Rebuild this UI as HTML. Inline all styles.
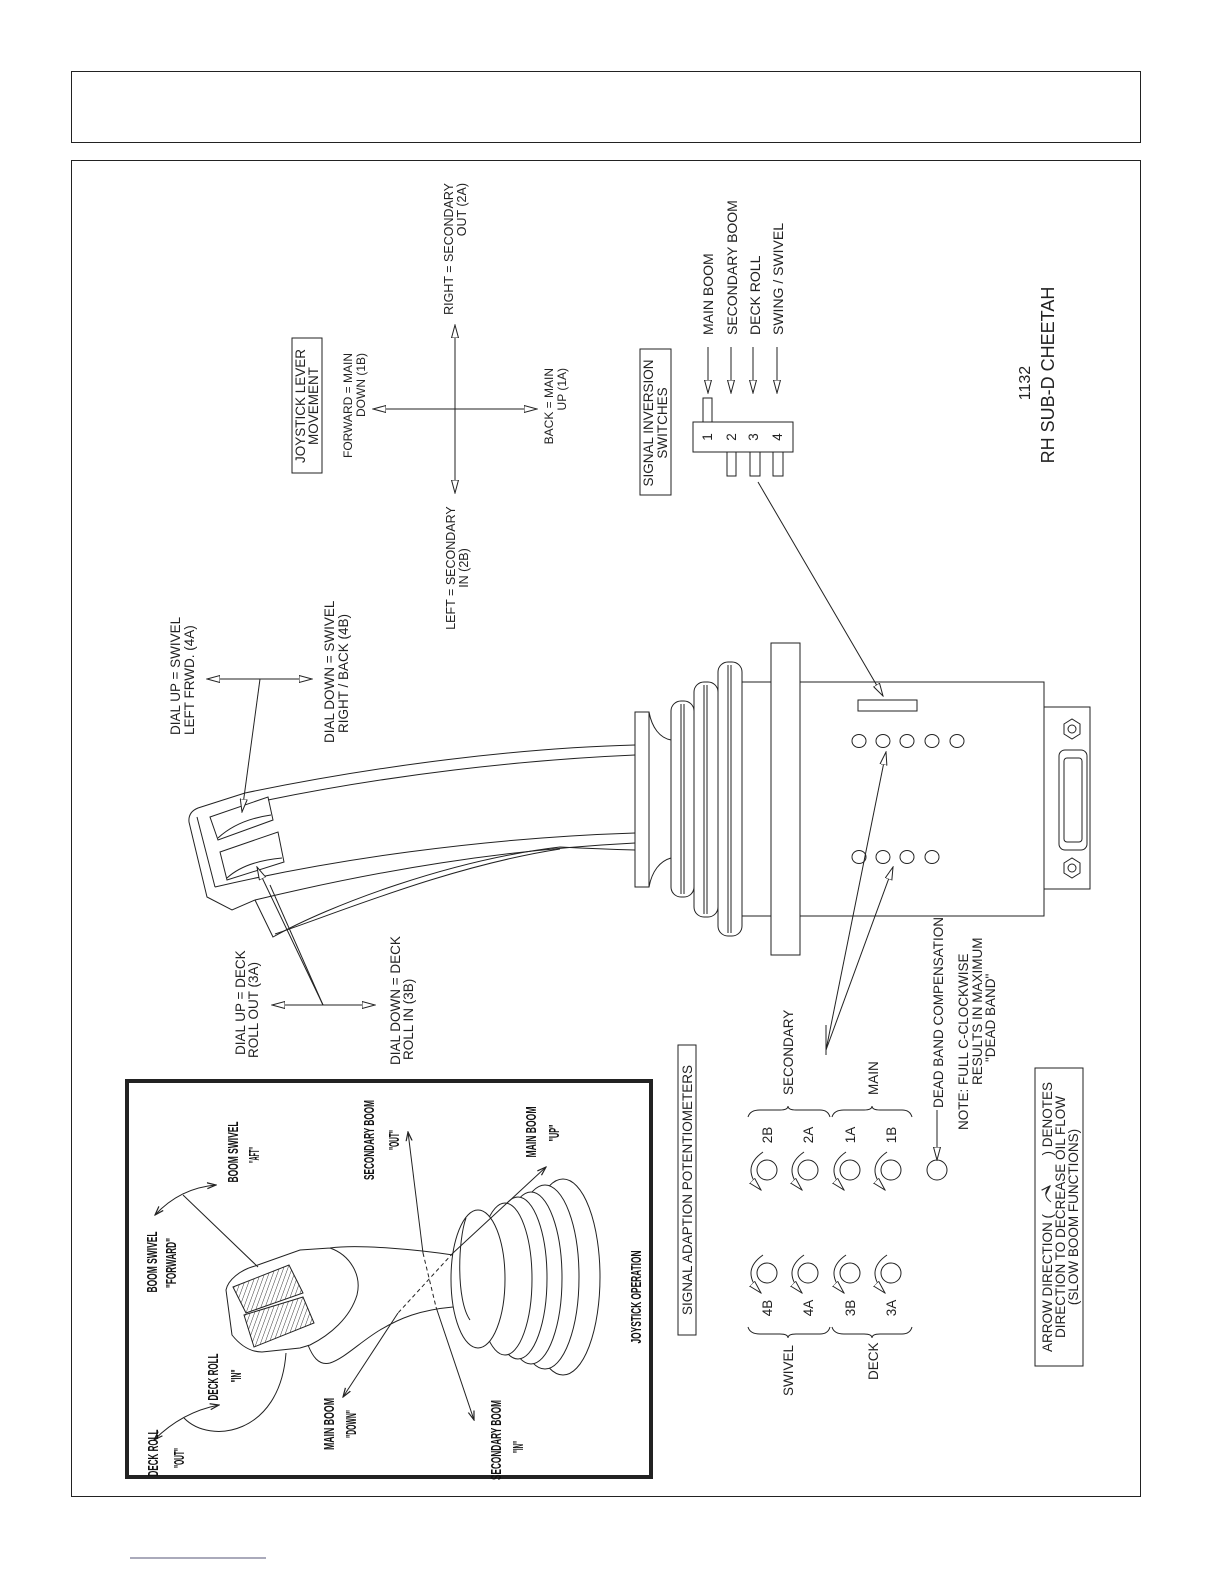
<!DOCTYPE html>
<html><head><meta charset="utf-8"><style>
html,body{margin:0;padding:0;background:#fff}
svg{display:block}
</style></head><body>
<svg width="1224" height="1584" viewBox="0 0 1224 1584" xmlns="http://www.w3.org/2000/svg" style="font-family:'Liberation Sans',sans-serif;font-size:13.5px">
<defs>
<marker id="a" markerWidth="14" markerHeight="8" refX="13" refY="4" orient="auto-start-reverse" markerUnits="userSpaceOnUse">
<path d="M0,0.5 L13,4 L0,7.5 Z" fill="#fff" stroke="#222" stroke-width="1"/></marker>
<marker id="s" markerWidth="10" markerHeight="8" refX="9" refY="4" orient="auto-start-reverse" markerUnits="userSpaceOnUse">
<path d="M0,1 L9,4 L0,7" fill="none" stroke="#222" stroke-width="1.2"/></marker>
<pattern id="h" width="4" height="4" patternUnits="userSpaceOnUse" patternTransform="rotate(20)">
<line x1="0" y1="0" x2="0" y2="4" stroke="#222" stroke-width="0.9"/></pattern>
</defs>
<g fill="none" stroke="#222" stroke-width="1">
<rect x="71.5" y="71.5" width="1069" height="71"/>
<rect x="71.5" y="160.5" width="1069" height="1336"/>
<line x1="130" y1="1558" x2="266" y2="1558" stroke="#557"/>
<rect x="292" y="338" width="30" height="135"/>
<line x1="455" y1="409" x2="373" y2="409" marker-end="url(#a)"/>
<line x1="455" y1="409" x2="537" y2="409" marker-end="url(#a)"/>
<line x1="455" y1="409" x2="455" y2="325" marker-end="url(#a)"/>
<line x1="455" y1="409" x2="455" y2="493" marker-end="url(#a)"/>
<rect x="640" y="349" width="31" height="146"/>
<rect x="693" y="422" width="100" height="30"/>
<rect x="703" y="398" width="9" height="24"/>
<rect x="727" y="452" width="9" height="24"/>
<rect x="750" y="452" width="10" height="24"/>
<rect x="773" y="452" width="10" height="24"/>
<line x1="708" y1="347" x2="708" y2="393" marker-end="url(#a)"/>
<line x1="731" y1="347" x2="731" y2="393" marker-end="url(#a)"/>
<line x1="753" y1="347" x2="753" y2="393" marker-end="url(#a)"/>
<line x1="777" y1="347" x2="777" y2="393" marker-end="url(#a)"/>
<line x1="758" y1="482" x2="883" y2="696" marker-end="url(#a)"/>
<rect x="742" y="682" width="302" height="234"/>
<rect x="771" y="643" width="29" height="312" fill="#fff"/>
<rect x="1044" y="707" width="46" height="182"/>
<rect x="858" y="700" width="59" height="11"/>
<path d="M1064,724 l8,-5 l8,5 v10 l-8,5 l-8,-5z M1064,863 l8,-5 l8,5 v10 l-8,5 l-8,-5z"/>
<circle cx="1072" cy="729" r="4"/><circle cx="1072" cy="868" r="4"/>
<rect x="1059" y="750" width="28" height="100" rx="6"/>
<rect x="1064" y="758" width="18" height="84" rx="3"/>
<g>
<ellipse cx="859" cy="741" rx="7" ry="6.5"/><ellipse cx="883" cy="741" rx="7" ry="6.5"/><ellipse cx="907" cy="741" rx="7" ry="6.5"/><ellipse cx="932" cy="741" rx="7" ry="6.5"/><ellipse cx="957" cy="741" rx="7" ry="6.5"/>
<ellipse cx="859" cy="857" rx="7" ry="6.5"/><ellipse cx="883" cy="857" rx="7" ry="6.5"/><ellipse cx="907" cy="857" rx="7" ry="6.5"/><ellipse cx="932" cy="857" rx="7" ry="6.5"/>
</g>
<rect x="718" y="662" width="24" height="274" rx="10" fill="#fff"/>
<path d="M728,665 v268 M731,665 v268"/>
<rect x="694" y="682" width="24" height="235" rx="10" fill="#fff"/>
<path d="M704,685 v229 M707,685 v229"/>
<rect x="671" y="701" width="23" height="196" rx="10" fill="#fff"/>
<path d="M681,704 v190 M684,704 v190"/>
<path d="M649,712 C652,728 660,738 671,740 M649,887 C652,871 660,861 671,858"/>
<rect x="635" y="712" width="14" height="175" fill="#fff"/>
<path d="M635,745 C520,748 380,765 245,793"/>
<path d="M635,755 C520,760 390,775 268,800"/>
<path d="M245,793 L198,808 Q188,812 189,822 L207,897 L232,910 L255,900"/>
<path d="M197,817 L215,887 M215,887 C330,860 480,838 635,833"/>
<path d="M255,900 C380,870 500,850 635,843"/>
<path d="M635,850 C600,849 580,848 560,847 C450,860 330,905 273,937 L255,900"/>
<path d="M560,849 C450,866 340,912 275,934"/>
<path d="M210,817 L268,797 L273,820 L218,840 Z"/>
<path d="M218,838 C232,825 250,818 271,815"/>
<path d="M220,852 L278,832 L284,862 L227,880 Z"/>
<path d="M227,878 C240,866 260,860 282,858"/>
<line x1="260" y1="679" x2="207" y2="679" marker-end="url(#a)"/>
<line x1="260" y1="679" x2="312" y2="679" marker-end="url(#a)"/>
<line x1="260" y1="679" x2="242" y2="812" marker-end="url(#a)"/>
<line x1="323" y1="1005" x2="272" y2="1005" marker-end="url(#a)"/>
<line x1="323" y1="1005" x2="375" y2="1005" marker-end="url(#a)"/>
<line x1="323" y1="1005" x2="257" y2="867" marker-end="url(#a)"/>
<line x1="323" y1="1005" x2="270" y2="885"/>
<line x1="826" y1="1050" x2="886" y2="752" marker-end="url(#a)"/>
<line x1="826" y1="1050" x2="893" y2="867" marker-end="url(#a)"/>
<line x1="826" y1="1025" x2="826" y2="1055"/>
<rect x="678" y="1045" width="18" height="290"/>
<g>
<circle cx="767" cy="1170" r="10"/><circle cx="808" cy="1170" r="10"/><circle cx="850" cy="1170" r="10"/><circle cx="891" cy="1170" r="10"/>
<circle cx="767" cy="1273" r="10"/><circle cx="808" cy="1273" r="10"/><circle cx="850" cy="1273" r="10"/><circle cx="891" cy="1273" r="10"/>
<circle cx="937" cy="1170" r="10"/>
<path d="M763,1152 Q740,1168 761,1190" marker-end="url(#a)"/>
<path d="M804,1152 Q781,1168 802,1190" marker-end="url(#a)"/>
<path d="M846,1152 Q823,1168 844,1190" marker-end="url(#a)"/>
<path d="M887,1152 Q864,1168 885,1190" marker-end="url(#a)"/>
<path d="M763,1255 Q740,1271 761,1293" marker-end="url(#a)"/>
<path d="M804,1255 Q781,1271 802,1293" marker-end="url(#a)"/>
<path d="M846,1255 Q823,1271 844,1293" marker-end="url(#a)"/>
<path d="M887,1255 Q864,1271 885,1293" marker-end="url(#a)"/>
<line x1="937" y1="1110" x2="937" y2="1160" marker-end="url(#a)"/>
</g>
<path d="M748,1117 Q750,1110 760,1110 L780,1110 Q788,1110 788,1106 Q788,1110 796,1110 L820,1110 Q828,1110 830,1117"/>
<path d="M832,1117 Q834,1110 844,1110 L864,1110 Q872,1110 872,1106 Q872,1110 880,1110 L902,1110 Q910,1110 912,1117"/>
<path d="M748,1327 Q750,1334 760,1334 L780,1334 Q788,1334 788,1338 Q788,1334 796,1334 L820,1334 Q828,1334 830,1327"/>
<path d="M832,1327 Q834,1334 844,1334 L864,1334 Q872,1334 872,1338 Q872,1334 880,1334 L902,1334 Q910,1334 912,1327"/>
<rect x="1035" y="1068" width="48" height="298"/>
<path d="M1051,1202 Q1041,1195 1050,1186" marker-end="url(#s)"/>
<rect x="127" y="1081" width="524" height="396" stroke-width="4"/>
<ellipse cx="563" cy="1277" rx="37" ry="98" fill="#fff"/>
<ellipse cx="545" cy="1277" rx="34" ry="92" fill="#fff"/>
<ellipse cx="531" cy="1278" rx="31" ry="86" fill="#fff"/>
<ellipse cx="518" cy="1278" rx="29" ry="81" fill="#fff"/>
<ellipse cx="505" cy="1279" rx="27" ry="76" fill="#fff"/>
<ellipse cx="478" cy="1279" rx="27" ry="69" fill="#fff"/>
<path d="M466,1218 C458,1240 456,1300 470,1320" />
<path d="M453,1255 C420,1250 360,1244 330,1248 C350,1255 362,1275 357,1295 C350,1318 330,1335 310,1345 L300,1348 L262,1352 C250,1352 240,1345 232,1335 L226,1290 C228,1280 240,1270 255,1266 L300,1250 L330,1248" fill="#fff"/>
<path d="M453,1307 C420,1310 400,1318 380,1330 C360,1342 345,1358 330,1363 C318,1366 312,1355 308,1345"/>
<path d="M233,1287 L289,1265 L303,1293 L246,1313 Z" fill="url(#h)"/>
<path d="M244,1315 L303,1297 L314,1323 L254,1347 Z" fill="url(#h)"/>
<path d="M216,1185 Q180,1188 155,1215" marker-start="url(#s)" marker-end="url(#s)"/>
<line x1="183" y1="1195" x2="258" y2="1267"/>
<path d="M219,1405 Q182,1412 154,1440" marker-start="url(#s)" marker-end="url(#s)"/>
<path d="M184,1418 C210,1445 280,1435 286,1353"/>
<line x1="408" y1="1132" x2="423" y2="1253" marker-start="url(#s)"/>
<line x1="423" y1="1253" x2="436" y2="1307" stroke-dasharray="4,3"/>
<line x1="436" y1="1307" x2="474" y2="1420" marker-end="url(#s)"/>
<line x1="546" y1="1167" x2="453" y2="1253" marker-start="url(#s)"/>
<line x1="453" y1="1253" x2="398" y2="1313" stroke-dasharray="4,3"/>
<line x1="398" y1="1313" x2="343" y2="1397" marker-end="url(#s)"/>
</g>
<g fill="#222">
<text transform="translate(305,406) rotate(-90)" text-anchor="middle">JOYSTICK LEVER</text>
<text transform="translate(318,406) rotate(-90)" text-anchor="middle">MOVEMENT</text>
<text transform="translate(352,353) rotate(-90)" text-anchor="end" font-size="12">FORWARD = MAIN</text>
<text transform="translate(365,353) rotate(-90)" text-anchor="end" font-size="12">DOWN (1B)</text>
<text transform="translate(453,183) rotate(-90)" text-anchor="end" font-size="12.5">RIGHT = SECONDARY</text>
<text transform="translate(466,183) rotate(-90)" text-anchor="end" font-size="12.5">OUT (2A)</text>
<text transform="translate(455,568) rotate(-90)" text-anchor="middle" font-size="12.5">LEFT = SECONDARY</text>
<text transform="translate(468,568) rotate(-90)" text-anchor="middle" font-size="12.5">IN (2B)</text>
<text transform="translate(553,368) rotate(-90)" text-anchor="end" font-size="12">BACK = MAIN</text>
<text transform="translate(566,368) rotate(-90)" text-anchor="end" font-size="12">UP (1A)</text>
<text transform="translate(653,423) rotate(-90)" text-anchor="middle">SIGNAL INVERSION</text>
<text transform="translate(667,423) rotate(-90)" text-anchor="middle">SWITCHES</text>
<text transform="translate(712,437) rotate(-90)" text-anchor="middle">1</text>
<text transform="translate(736,437) rotate(-90)" text-anchor="middle">2</text>
<text transform="translate(758,437) rotate(-90)" text-anchor="middle">3</text>
<text transform="translate(782,437) rotate(-90)" text-anchor="middle">4</text>
<text transform="translate(713,335) rotate(-90)" font-size="14">MAIN BOOM</text>
<text transform="translate(737,335) rotate(-90)" font-size="14">SECONDARY BOOM</text>
<text transform="translate(760,335) rotate(-90)" font-size="14">DECK ROLL</text>
<text transform="translate(783,335) rotate(-90)" font-size="14">SWING / SWIVEL</text>
<text transform="translate(1030,383) rotate(-90)" text-anchor="middle" font-size="16">1132</text>
<text transform="translate(1054,375) rotate(-90)" text-anchor="middle" font-size="18">RH SUB-D CHEETAH</text>
<text transform="translate(180,735) rotate(-90)">DIAL UP = SWIVEL</text>
<text transform="translate(194,735) rotate(-90)">LEFT FRWD.  (4A)</text>
<text transform="translate(334,743) rotate(-90)">DIAL DOWN = SWIVEL</text>
<text transform="translate(348,733) rotate(-90)">RIGHT / BACK (4B)</text>
<text transform="translate(245,1055) rotate(-90)">DIAL UP = DECK</text>
<text transform="translate(258,1058) rotate(-90)">ROLL OUT (3A)</text>
<text transform="translate(400,1065) rotate(-90)">DIAL DOWN = DECK</text>
<text transform="translate(413,1060) rotate(-90)">ROLL IN (3B)</text>
<text transform="translate(692,1190) rotate(-90)" text-anchor="middle">SIGNAL ADAPTION POTENTIOMETERS</text>
<text transform="translate(772,1135) rotate(-90)" text-anchor="middle">2B</text>
<text transform="translate(813,1135) rotate(-90)" text-anchor="middle">2A</text>
<text transform="translate(855,1135) rotate(-90)" text-anchor="middle">1A</text>
<text transform="translate(896,1135) rotate(-90)" text-anchor="middle">1B</text>
<text transform="translate(772,1308) rotate(-90)" text-anchor="middle">4B</text>
<text transform="translate(813,1308) rotate(-90)" text-anchor="middle">4A</text>
<text transform="translate(855,1308) rotate(-90)" text-anchor="middle">3B</text>
<text transform="translate(896,1308) rotate(-90)" text-anchor="middle">3A</text>
<text transform="translate(793,1095) rotate(-90)">SECONDARY</text>
<text transform="translate(878,1095) rotate(-90)">MAIN</text>
<text transform="translate(793,1396) rotate(-90)">SWIVEL</text>
<text transform="translate(878,1380) rotate(-90)">DECK</text>
<text transform="translate(943,1108) rotate(-90)">DEAD BAND COMPENSATION</text>
<text transform="translate(968,1130) rotate(-90)">NOTE: FULL C-CLOCKWISE</text>
<text transform="translate(982,1085) rotate(-90)">RESULTS IN MAXIMUM</text>
<text transform="translate(995,1062) rotate(-90)">"DEAD BAND"</text>
<text transform="translate(1052,1352) rotate(-90)">ARROW DIRECTION (</text>
<text transform="translate(1052,1082) rotate(-90)" text-anchor="end">) DENOTES</text>
<text transform="translate(1065,1217) rotate(-90)" text-anchor="middle">DIRECTION TO DECREASE OIL FLOW</text>
<text transform="translate(1078,1217) rotate(-90)" text-anchor="middle">(SLOW BOOM FUNCTIONS)</text>
</g>
<g fill="#111" font-weight="bold" font-size="15" text-anchor="middle">
<text transform="translate(641,1297) rotate(-90)" textLength="93" lengthAdjust="spacingAndGlyphs">JOYSTICK OPERATION</text>
<text transform="translate(157,1262) rotate(-90)" textLength="61" lengthAdjust="spacingAndGlyphs">BOOM SWIVEL</text>
<text transform="translate(176,1263) rotate(-90)" textLength="50" lengthAdjust="spacingAndGlyphs">"FORWARD"</text>
<text transform="translate(238,1152) rotate(-90)" textLength="61" lengthAdjust="spacingAndGlyphs">BOOM SWIVEL</text>
<text transform="translate(259,1155) rotate(-90)" textLength="16" lengthAdjust="spacingAndGlyphs">"AFT"</text>
<text transform="translate(374,1140) rotate(-90)" textLength="80" lengthAdjust="spacingAndGlyphs">SECONDARY BOOM</text>
<text transform="translate(399,1140) rotate(-90)" textLength="20" lengthAdjust="spacingAndGlyphs">"OUT"</text>
<text transform="translate(536,1132) rotate(-90)" textLength="51" lengthAdjust="spacingAndGlyphs">MAIN BOOM</text>
<text transform="translate(559,1133) rotate(-90)" textLength="17" lengthAdjust="spacingAndGlyphs">"UP"</text>
<text transform="translate(218,1377) rotate(-90)" textLength="47" lengthAdjust="spacingAndGlyphs">DECK ROLL</text>
<text transform="translate(241,1376) rotate(-90)" textLength="13" lengthAdjust="spacingAndGlyphs">"IN"</text>
<text transform="translate(158,1453) rotate(-90)" textLength="47" lengthAdjust="spacingAndGlyphs">DECK ROLL</text>
<text transform="translate(184,1458) rotate(-90)" textLength="20" lengthAdjust="spacingAndGlyphs">"OUT"</text>
<text transform="translate(334,1424) rotate(-90)" textLength="52" lengthAdjust="spacingAndGlyphs">MAIN BOOM</text>
<text transform="translate(356,1424) rotate(-90)" textLength="28" lengthAdjust="spacingAndGlyphs">"DOWN"</text>
<text transform="translate(501,1440) rotate(-90)" textLength="80" lengthAdjust="spacingAndGlyphs">SECONDARY BOOM</text>
<text transform="translate(523,1447) rotate(-90)" textLength="12" lengthAdjust="spacingAndGlyphs">"IN"</text>
</g>
</svg>
</body></html>
